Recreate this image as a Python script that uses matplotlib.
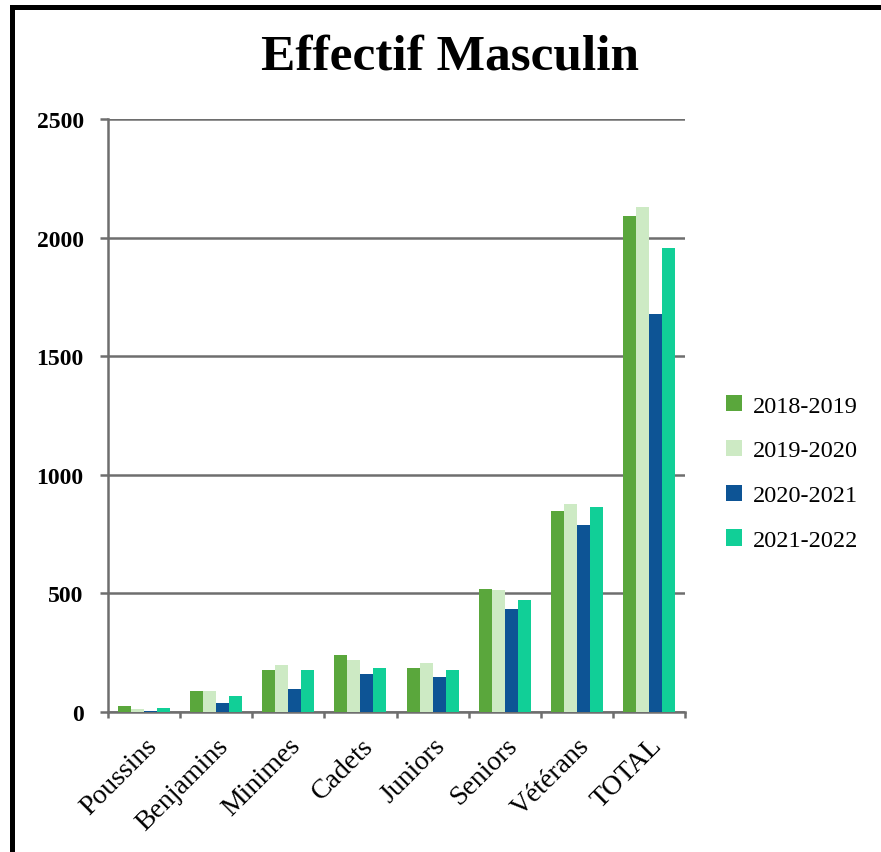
import matplotlib
matplotlib.use("Agg")
import matplotlib.pyplot as plt
import numpy as np
from matplotlib.lines import Line2D

categories = ["Poussins", "Benjamins", "Minimes", "Cadets", "Juniors", "Seniors", "Vétérans", "TOTAL"]
series_names = ["2018-2019", "2019-2020", "2020-2021", "2021-2022"]
s2018 = [24, 89, 176, 239, 186, 520, 846, 2092]
s2019 = [12, 90, 197, 221, 208, 516, 877, 2128]
s2020 = [4, 36, 96, 162, 148, 435, 789, 1678]
s2021 = [16, 66, 176, 184, 176, 472, 864, 1958]
colors = ["#5aa73c", "#cdeac4", "#0d5495", "#11cf97"]
yticks = [0, 500, 1000, 1500, 2000, 2500]

plt.rcParams['font.family'] = ['Liberation Serif', 'DejaVu Serif']

fig = plt.figure(figsize=(8.81, 8.53), dpi=100)
ax = fig.add_axes([108/881, 1-713/853, (685-108)/881, (713-120)/853])

x = np.arange(len(categories))
w = 13/72
data = [s2018, s2019, s2020, s2021]
for i, (vals, c, name) in enumerate(zip(data, colors, series_names)):
    ax.bar(x + (i - 1.5) * w, vals, width=w, color=c, label=name, zorder=3)

gray = "#6e6e6e"
ax.set_xlim(-0.5, len(categories) - 0.5)
ax.set_ylim(0, 2500)
ax.set_yticks(yticks)
ax.set_yticklabels([str(v) for v in yticks], fontsize=17, fontweight='bold')
ax.yaxis.grid(True, color=gray, linewidth=1.8, zorder=0)
ax.set_axisbelow(True)
for s in ['top', 'right']:
    ax.spines[s].set_visible(False)
for s in ['left', 'bottom']:
    ax.spines[s].set_color(gray)
    ax.spines[s].set_linewidth(1.8)
ax.tick_params(axis='y', direction='out', length=5.5, width=1.8, color=gray, pad=12)
ax.set_xticks(x)
ax.set_xticklabels(categories, fontsize=20, rotation=45, ha='right', rotation_mode='anchor')
ax.tick_params(axis='x', length=0, pad=15)
ax.set_xticks(np.arange(-0.5, len(categories), 1.0), minor=True)
ax.tick_params(axis='x', which='minor', direction='out', length=4.5, width=1.8, color=gray)

fig.text(450/881, 1-58/853, "Effectif Masculin", ha='center', va='center',
         fontsize=37, fontweight='bold')

leg = fig.legend(loc='center left', bbox_to_anchor=(726/881, 1-474/853), frameon=False,
                 fontsize=17.5, handlelength=0.65, handleheight=0.65, labelspacing=0.95,
                 handletextpad=0.45, borderpad=0, borderaxespad=0)

fig.add_artist(Line2D([12/881, 12/881], [0, 1-8/853], color='black', linewidth=3.6,
                      transform=fig.transFigure, solid_capstyle='projecting'))
fig.add_artist(Line2D([12/881, 1], [1-8/853, 1-8/853], color='black', linewidth=3.6,
                      transform=fig.transFigure, solid_capstyle='projecting'))

fig.savefig("out.png", dpi=100)
